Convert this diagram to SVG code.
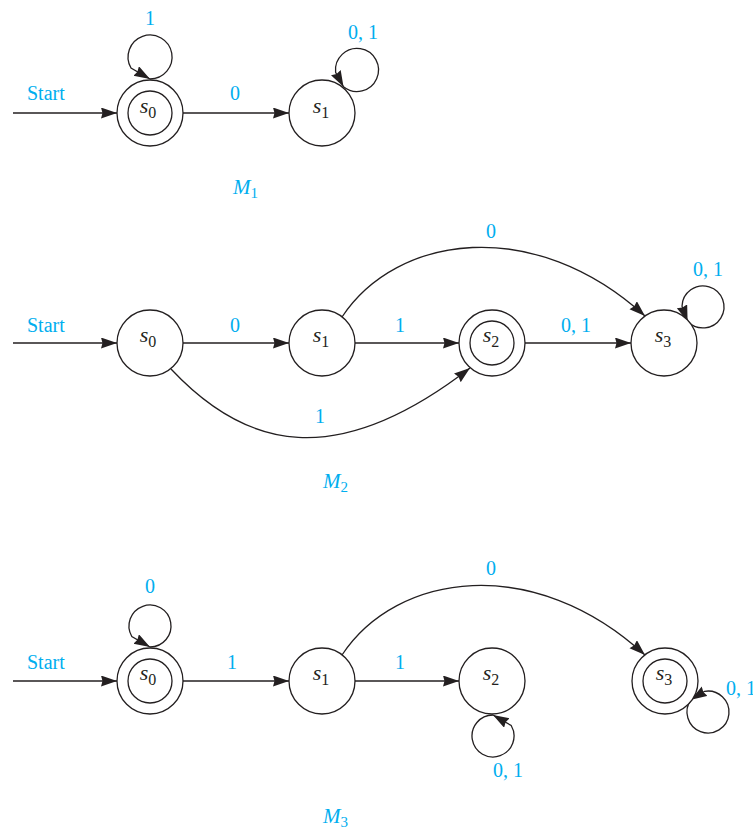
<svg xmlns="http://www.w3.org/2000/svg" width="753" height="831" viewBox="0 0 753 831">
<defs>
<marker id="ah" markerUnits="userSpaceOnUse" markerWidth="18" markerHeight="12" refX="16" refY="5.5" orient="auto">
<path d="M0,0 L16,5.5 L0,11 L1.5,5.5 z" fill="#231f20"/>
</marker>
<style>
.st{fill:#fff;stroke:#231f20;stroke-width:1.3}
.ed{fill:none;stroke:#231f20;stroke-width:1.3;marker-end:url(#ah)}
.lb{font-family:"Liberation Serif",serif;font-size:20px;fill:#00aeef;text-anchor:middle}
.ls{font-family:"Liberation Serif",serif;font-size:20px;fill:#00aeef}
.nt{font-family:"Liberation Serif",serif;font-size:22px;fill:#231f20;text-anchor:middle}
.mt{font-family:"Liberation Serif",serif;font-size:21px;fill:#00aeef}
</style>
</defs>
<rect width="753" height="831" fill="#fff"/>

<g id="connectors">
<!-- M1 -->
<path class="ed" d="M13,113 L117,113"/>
<path class="ed" d="M183,113 L289,113"/>
<path class="ed" d="M150,79 A22,22 0 1,0 131,68 L150,79"/>
<path class="ed" d="M343.5,86.7 A21.5,21.5 0 1,0 335.6,72.2 L343.5,86.7"/>
<!-- M2 -->
<path class="ed" d="M13,343 L117,343"/>
<path class="ed" d="M183,343 L289,343"/>
<path class="ed" d="M355,343 L459,343"/>
<path class="ed" d="M525,343 L631,343"/>
<path class="ed" d="M342,317 C397,234 534,215 645,316"/>
<path class="ed" d="M171,369 C246,449 335.7,471.7 470,368"/>
<path class="ed" d="M687.6,321.2 A21,21 0 1,0 682,306.2 L687.6,321.2"/>
<!-- M3 -->
<path class="ed" d="M13,681 L117,681"/>
<path class="ed" d="M183,681 L289,681"/>
<path class="ed" d="M355,681 L459,681"/>
<path class="ed" d="M342,655 C397,572 534,553 645,655"/>
<path class="ed" d="M150,647 A21,21 0 1,0 131.8,636.5 L150,647"/>
<path class="ed" d="M493,715 A21,21 0 1,0 511.2,725.5 L493,715"/>
<path class="ed" d="M691,699.7 A21,21 0 1,0 704.6,691.3 L691,699.7"/>
</g>

<g id="labels">
<text class="ls" x="27" y="100">Start</text>
<text class="lb" x="150" y="25">1</text>
<text class="lb" x="235" y="100">0</text>
<text class="lb" x="363" y="39">0, 1</text>
<text class="mt" x="233" y="194"><tspan font-style="italic">M</tspan><tspan font-size="15" dy="4">1</tspan></text>

<text class="ls" x="27" y="332">Start</text>
<text class="lb" x="235" y="332">0</text>
<text class="lb" x="400" y="332">1</text>
<text class="lb" x="576" y="332">0, 1</text>
<text class="lb" x="491" y="238">0</text>
<text class="lb" x="708" y="276">0, 1</text>
<text class="lb" x="320" y="423">1</text>
<text class="mt" x="323" y="488"><tspan font-style="italic">M</tspan><tspan font-size="15" dy="4">2</tspan></text>

<text class="ls" x="27" y="669">Start</text>
<text class="lb" x="150" y="593">0</text>
<text class="lb" x="232" y="669">1</text>
<text class="lb" x="400" y="669">1</text>
<text class="lb" x="491" y="575">0</text>
<text class="lb" x="508" y="777">0, 1</text>
<text class="ls" x="726" y="695">0, 1</text>
<text class="mt" x="323" y="823"><tspan font-style="italic">M</tspan><tspan font-size="15" dy="4">3</tspan></text>
</g>

<g id="M1-s0"><circle class="st" cx="150" cy="113" r="33"/><circle class="st" cx="150" cy="113" r="22"/><text class="nt" x="148" y="113"><tspan font-style="italic">s</tspan><tspan font-size="16" dy="5">0</tspan></text></g>
<g id="M1-s1"><circle class="st" cx="322" cy="113" r="33"/><text class="nt" x="321" y="113"><tspan font-style="italic">s</tspan><tspan font-size="16" dy="5">1</tspan></text></g>

<g id="M2-s0"><circle class="st" cx="150" cy="343" r="33"/><text class="nt" x="148" y="342"><tspan font-style="italic">s</tspan><tspan font-size="16" dy="5">0</tspan></text></g>
<g id="M2-s1"><circle class="st" cx="322" cy="343" r="33"/><text class="nt" x="321" y="342"><tspan font-style="italic">s</tspan><tspan font-size="16" dy="5">1</tspan></text></g>
<g id="M2-s2"><circle class="st" cx="492" cy="343" r="33"/><circle class="st" cx="492" cy="343" r="22"/><text class="nt" x="491" y="342"><tspan font-style="italic">s</tspan><tspan font-size="16" dy="5">2</tspan></text></g>
<g id="M2-s3"><circle class="st" cx="664" cy="343" r="33"/><text class="nt" x="663" y="342"><tspan font-style="italic">s</tspan><tspan font-size="16" dy="5">3</tspan></text></g>

<g id="M3-s0"><circle class="st" cx="150" cy="681" r="33"/><circle class="st" cx="150" cy="681" r="22"/><text class="nt" x="148" y="680"><tspan font-style="italic">s</tspan><tspan font-size="16" dy="5">0</tspan></text></g>
<g id="M3-s1"><circle class="st" cx="322" cy="681" r="33"/><text class="nt" x="321" y="680"><tspan font-style="italic">s</tspan><tspan font-size="16" dy="5">1</tspan></text></g>
<g id="M3-s2"><circle class="st" cx="492" cy="681" r="33"/><text class="nt" x="491" y="680"><tspan font-style="italic">s</tspan><tspan font-size="16" dy="5">2</tspan></text></g>
<g id="M3-s3"><circle class="st" cx="665" cy="681" r="33"/><circle class="st" cx="665" cy="681" r="22"/><text class="nt" x="664" y="680"><tspan font-style="italic">s</tspan><tspan font-size="16" dy="5">3</tspan></text></g>
</svg>
